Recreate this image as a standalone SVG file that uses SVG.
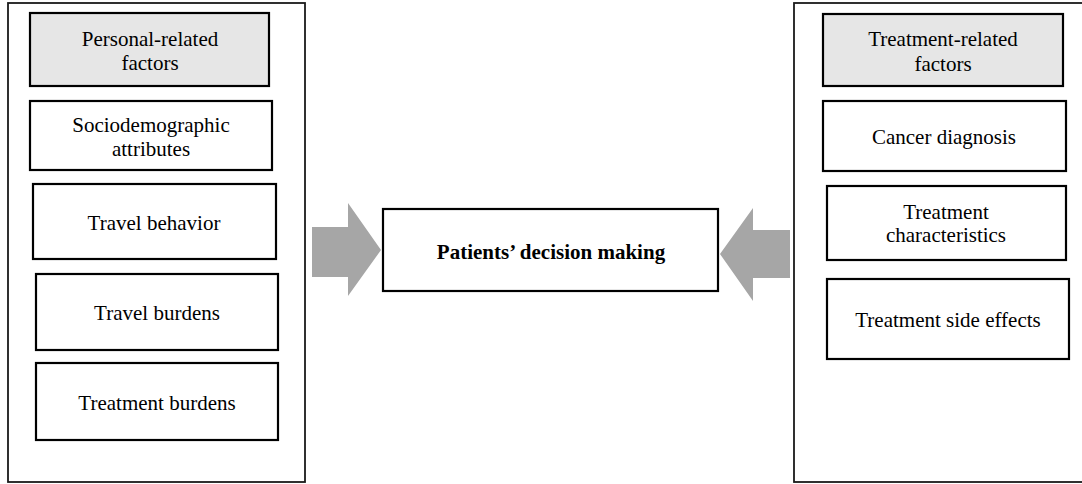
<svg xmlns="http://www.w3.org/2000/svg" width="1082" height="484" viewBox="0 0 1082 484" font-family="Liberation Serif, Times New Roman, serif" font-size="21">
<style>
.outer{fill:#fff;stroke:#1a1a1a;stroke-width:1.8}
.box{fill:#fff;stroke:#000;stroke-width:2.2}
.head{fill:#e6e6e6;stroke:#000;stroke-width:2.2}
text{fill:#000;text-anchor:middle}
.b{font-weight:bold}
.arrow{fill:#a6a6a6}
</style>
<rect width="1082" height="484" fill="#fff"/>
<g id="personal-group">
<rect class="outer" x="8" y="3" width="297" height="479"/>
</g>
<g id="treatment-group">
<rect class="outer" x="794" y="3" width="300" height="479"/>
</g>
<g id="personal-related">
<rect class="head" x="30" y="13" width="239" height="73"/>
<text x="150" y="46">Personal-related</text>
<text x="150" y="70">factors</text>
</g>
<g id="sociodemographic">
<rect class="box" x="30" y="101" width="242" height="69"/>
<text x="151" y="132">Sociodemographic</text>
<text x="151" y="156">attributes</text>
</g>
<g id="travel-behavior">
<rect class="box" x="33" y="184" width="243" height="75"/>
<text x="154" y="230">Travel behavior</text>
</g>
<g id="travel-burdens">
<rect class="box" x="36" y="274" width="242" height="76"/>
<text x="157" y="320">Travel burdens</text>
</g>
<g id="treatment-burdens">
<rect class="box" x="36" y="363" width="242" height="77"/>
<text x="157" y="410">Treatment burdens</text>
</g>
<g id="decision">
<rect class="box" x="383" y="209" width="335" height="82"/>
<text class="b" x="551" y="259">Patients’ decision making</text>
</g>
<g id="treatment-related">
<rect class="head" x="823" y="14" width="240" height="72"/>
<text x="943" y="46">Treatment-related</text>
<text x="943" y="71">factors</text>
</g>
<g id="cancer-diagnosis">
<rect class="box" x="823" y="101" width="243" height="70"/>
<text x="944" y="144">Cancer diagnosis</text>
</g>
<g id="treatment-characteristics">
<rect class="box" x="827" y="186" width="239" height="74"/>
<text x="946" y="219">Treatment</text>
<text x="946" y="242">characteristics</text>
</g>
<g id="side-effects">
<rect class="box" x="827" y="279" width="242" height="80"/>
<text x="948" y="327">Treatment side effects</text>
</g>
<g id="connectors">
<polygon class="arrow" points="312,227 348,227 348,203 381,250 348,296 348,277 312,277"/>
<polygon class="arrow" points="790,230 753,230 753,208 720,254 753,301 753,278 790,278"/>
</g>
</svg>
